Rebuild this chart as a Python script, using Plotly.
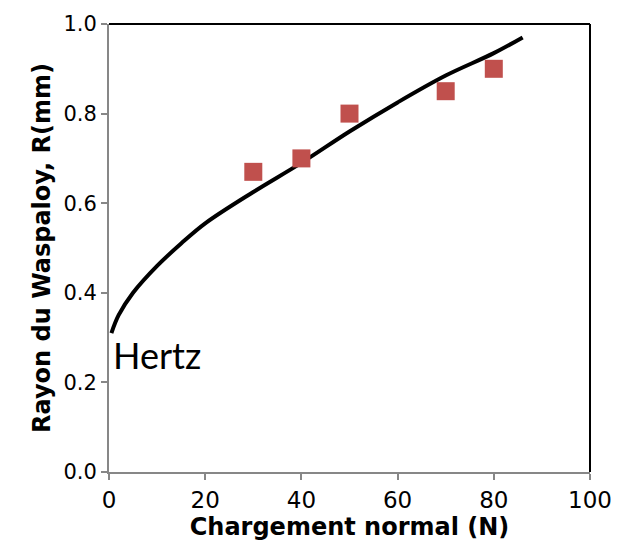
import plotly.graph_objects as go

# measured points
charge = [30, 40, 50, 70, 80]
rayon = [0.67, 0.70, 0.80, 0.85, 0.90]

# Hertz curve
hertz_x = [0.5, 2, 5, 10, 15, 20, 30, 40, 50, 60, 70, 80, 86]
hertz_y = [0.31, 0.35, 0.40, 0.46, 0.51, 0.555, 0.625, 0.69, 0.76, 0.825, 0.885, 0.935, 0.97]

grey = '#878787'

fig = go.Figure()
fig.add_trace(go.Scatter(
    x=hertz_x, y=hertz_y, mode='lines',
    line=dict(color='black', width=4, shape='spline'),
    showlegend=False))
fig.add_trace(go.Scatter(
    x=charge, y=rayon, mode='markers',
    marker=dict(symbol='square', size=18, color='#C0504D'),
    showlegend=False))

fig.add_annotation(
    x=0.5, y=0.262, text='Hertz', showarrow=False,
    xanchor='left', yanchor='middle',
    font=dict(family='Lato', size=36, color='black'))

# black top and right frame
fig.add_shape(type='line', xref='paper', yref='paper', x0=0, x1=1, y0=1, y1=1,
              line=dict(color='black', width=2))
fig.add_shape(type='line', xref='paper', yref='paper', x0=1, x1=1, y0=0, y1=1,
              line=dict(color='black', width=2))

fig.update_layout(
    width=624, height=548,
    margin=dict(l=109, r=23, t=17, b=76),
    plot_bgcolor='white', paper_bgcolor='white',
    font=dict(family='DejaVu Sans', size=22, color='black'),
    xaxis=dict(
        range=[0, 100], dtick=20, showgrid=False, zeroline=False,
        showline=True, linecolor=grey, linewidth=2,
        ticks='outside', ticklen=6, tickcolor=grey, tickwidth=2,
        ticklabeloverflow='allow',
        tickfont=dict(family='DejaVu Sans', size=23),
        title=dict(text='<b>Chargement normal (N)</b>', standoff=0,
                   font=dict(family='DejaVu Sans', size=24))),
    yaxis=dict(
        range=[0, 1.0], dtick=0.2, tickformat='.1f', showgrid=False,
        zeroline=False, showline=True, linecolor=grey, linewidth=2,
        ticks='outside', ticklen=6, tickcolor=grey, tickwidth=2,
        ticklabeloverflow='allow',
        tickfont=dict(family='DejaVu Sans', size=21),
        title=dict(text='<b>Rayon du Waspaloy, R(mm)</b>', standoff=6,
                   font=dict(family='DejaVu Sans', size=24))),
)

fig.write_html('out.html', config={'displayModeBar': False},
               post_script="document.body.style.margin='0';"
                           "document.body.style.overflow='hidden';")
